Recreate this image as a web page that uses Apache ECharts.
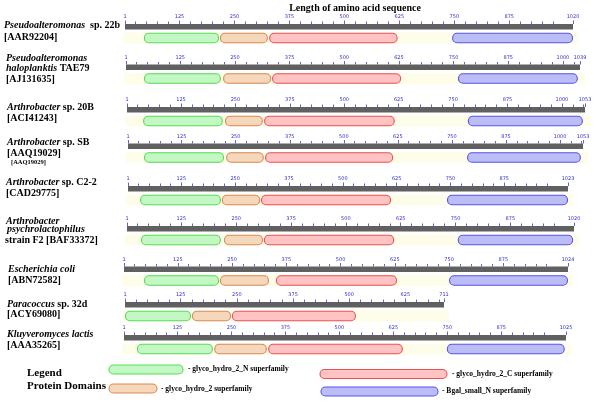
<!DOCTYPE html>
<html><head><meta charset="utf-8">
<script src="https://cdn.jsdelivr.net/npm/echarts@6/dist/echarts.min.js"></script>
<style>html,body{margin:0;padding:0;background:#fff}#c{width:600px;height:411px}</style>
</head><body><div id="c"></div>
<script>
// ---------- data ----------
const chartTitle = 'Length of amino acid sequence';
const seqLength = [1020, 1039, 1053, 1053, 1023, 1020, 1024, 711, 1025];
const rowTicks = [
  [1,125,250,375,500,625,750,875,1000,1020],
  [1,125,250,375,500,625,750,875,1000,1039],
  [1,125,250,375,500,625,750,875,1000,1053],
  [1,125,250,375,500,625,750,875,1000,1053],
  [1,125,250,375,500,625,750,875,1023],
  [1,125,250,375,500,625,750,875,1000,1020],
  [1,125,250,375,500,625,750,875,1024],
  [1,125,250,375,500,625,711],
  [1,125,250,375,500,625,750,875,1025]
];
const gh2N  = [[44,215],[42,218],[38,221],[38,223],[29,217],[33,215],[47,220],[1,148],[31,207]];
const gh2   = [[217,326],[223,333],[226,313],[228,315],[219,308],[222,311],[222,335],[150,237],[210,332]];
const gh2C  = [[329,621],[335,630],[316,616],[318,614],[310,612],[313,610],[351,630],[239,515],[335,647]];
const bgalN = [[745,1020],[760,1034],[784,1048],[785,1048],[742,1023],[755,1018],[750,1024],null,[749,1022]];
const domainNames = ['glyco_hydro_2_N superfamily','glyco_hydro_2 superfamily','glyco_hydro_2_C superfamily','Bgal_small_N superfamily'];
const speciesLines = [
  ['{gi|Pseudoalteromonas}{b|  sp. 22b}', '{b|[AAR92204]}'],
  ['{gi|Pseudoalteromonas}', '{gi|haloplanktis}{b| TAE79}', '{b|[AJ131635]}'],
  ['{gi|Arthrobacter}{b| sp. 20B}', '{b|[ACI41243]}'],
  ['{gi|Arthrobacter}{b| sp. SB}', '{b|[AAQ19029]}', '{s|[AAQ19029]}'],
  ['{gi|Arthrobacter}{b| sp. C2-2}', '{b|[CAD29775]}'],
  ['{gi|Arthrobacter}', '{gi|psychrolactophilus}', '{b|strain F2 [BAF33372]}'],
  ['{gi|Escherichia coli}', '{b|[ABN72582]}'],
  ['{gi|Paracoccus}{b| sp. 32d}', '{b|[ACY69080]}'],
  ['{gi|Kluyveromyces lactis}', '{b|[AAA35265]}']
];

// ---------- layout / style ----------
const rowLeft  = [125,126,127,128,128,127,124,125,124];
const rowRight = [573,580,585,583,568,574,568,444,566];
const barTop   = [24,64.5,107,143.5,186,226,266.5,302,335];
const textPos = [
  [[4,25],[4,37.5]],
  [[6,58],[6,68.5],[6,79.5]],
  [[7,107],[7,118]],
  [[7,142],[7,153],[11,162]],
  [[6,182],[6,193]],
  [[6,221.5],[7,229],[5,240]],
  [[8,269.5],[8,280.5]],
  [[7,304],[7,314]],
  [[7,334],[7,345]]
];
const fills   = ['#c3f7c3','#f5d7bb','#ffc3c3','#bcbcf7'];
const strokes = ['#55dd55','#dd8850','#ee5050','#5555ee'];
const serif = '"Liberation Serif", "Times New Roman", serif';
const GH = 20;

function renderTrack(params, api){
  const a = api.coord([api.value(0), 0]);
  const b = api.coord([api.value(1), 0]);
  return {type:'group', children:[
    {type:'rect', shape:{x:a[0]-2, y:a[1]+8.5, width:b[0]-a[0]+7, height:11}, style:{fill:'#fdfdea'}},
    {type:'rect', shape:{x:a[0], y:a[1], width:b[0]-a[0], height:5.5}, style:{fill:'#606060'}}
  ]};
}
function renderDomain(params, api){
  const t = api.value(2);
  const a = api.coord([api.value(0), 0]);
  const b = api.coord([api.value(1), 0]);
  return {type:'rect', shape:{x:a[0]+0.5, y:a[1]+9.3, width:b[0]-a[0]-1, height:9.5, r:4.5},
    style:{fill:fills[t], stroke:strokes[t], lineWidth:1.1}};
}

const grids = [], xAxes = [], yAxes = [], series = [];
seqLength.forEach((len, i) => {
  grids.push({left:rowLeft[i], width:rowRight[i]-rowLeft[i], top:barTop[i], height:GH,
    containLabel:false, outerBoundsMode:'none'});
  yAxes.push({gridIndex:i, type:'value', min:0, max:1, inverse:true, show:false});
  const minor = [];
  for (let v = 25; v < len; v += 25) if (v % 125 !== 0) minor.push(v);
  xAxes.push({gridIndex:i, type:'value', min:1, max:len, position:'top',
    axisLine:{show:false}, splitLine:{show:false},
    axisTick:{show:true, customValues:rowTicks[i], length:3.5, lineStyle:{color:'#3a3ad8', width:0.8}},
    axisLabel:{show:true, customValues:rowTicks[i], fontSize:5, color:'#3030d0', margin:4.5,
      fontFamily:'DejaVu Sans', hideOverlap:false, showMinLabel:true, showMaxLabel:true,
      formatter: v => String(v)}});
  xAxes.push({gridIndex:i, type:'value', min:1, max:len, position:'bottom', offset:-GH,
    axisLine:{show:false}, splitLine:{show:false}, axisLabel:{show:false},
    axisTick:{show:true, inside:true, customValues:minor, length:2.5, lineStyle:{color:'#3a3ad8', width:0.8}}});
  series.push({type:'custom', xAxisIndex:2*i, yAxisIndex:i, renderItem:renderTrack, clip:false,
    silent:true, encode:{x:[0,1]}, data:[[1, len]]});
  const doms = [];
  [gh2N, gh2, gh2C, bgalN].forEach((arr, t) => { if (arr[i]) doms.push([arr[i][0], arr[i][1], t]); });
  series.push({type:'custom', xAxisIndex:2*i, yAxisIndex:i, renderItem:renderDomain, clip:false,
    encode:{x:[0,1]}, data:doms, z:3});
});

const rich = {
  gi:{fontFamily:serif, fontSize:10, fontWeight:'bold', fontStyle:'italic', fill:'#000'},
  b:{fontFamily:serif, fontSize:10, fontWeight:'bold', fill:'#000'},
  s:{fontFamily:serif, fontSize:6.5, fontWeight:'bold', fill:'#000'}
};
const graphics = [];
graphics.push({type:'text', x:355, y:8, style:{text:chartTitle, font:'bold 10px '+serif, fill:'#000', align:'center', verticalAlign:'middle'}});
speciesLines.forEach((lines, i) => {
  lines.forEach((ln, j) => {
    graphics.push({type:'text', x:textPos[i][j][0], y:textPos[i][j][1],
      style:{text:ln, rich:rich, align:'left', verticalAlign:'middle'}});
  });
});
graphics.push({type:'text', x:27, y:373, style:{text:'Legend', font:'bold 11px '+serif, fill:'#000', verticalAlign:'middle'}});
graphics.push({type:'text', x:27, y:386, style:{text:'Protein Domains', font:'bold 11px '+serif, fill:'#000', verticalAlign:'middle'}});
const legendBoxes = [[109,365,74,188,369.5],[109,384,48,161,389],[320,369.5,127,452,374],[321,387,117,442,391.5]];
legendBoxes.forEach((lb, t) => {
  graphics.push({type:'rect', shape:{x:lb[0], y:lb[1], width:lb[2], height:9, r:4.5},
    style:{fill:fills[t], stroke:strokes[t], lineWidth:1.1}});
  graphics.push({type:'text', x:lb[3], y:lb[4], style:{text:'- '+domainNames[t], font:'bold 7.5px '+serif, fill:'#000', verticalAlign:'middle'}});
});

const chart = echarts.init(document.getElementById('c'));
chart.setOption({
  animation:false,
  backgroundColor:'#fff',
  grid:grids, xAxis:xAxes, yAxis:yAxes, series:series, graphic:graphics
});
</script></body></html>
